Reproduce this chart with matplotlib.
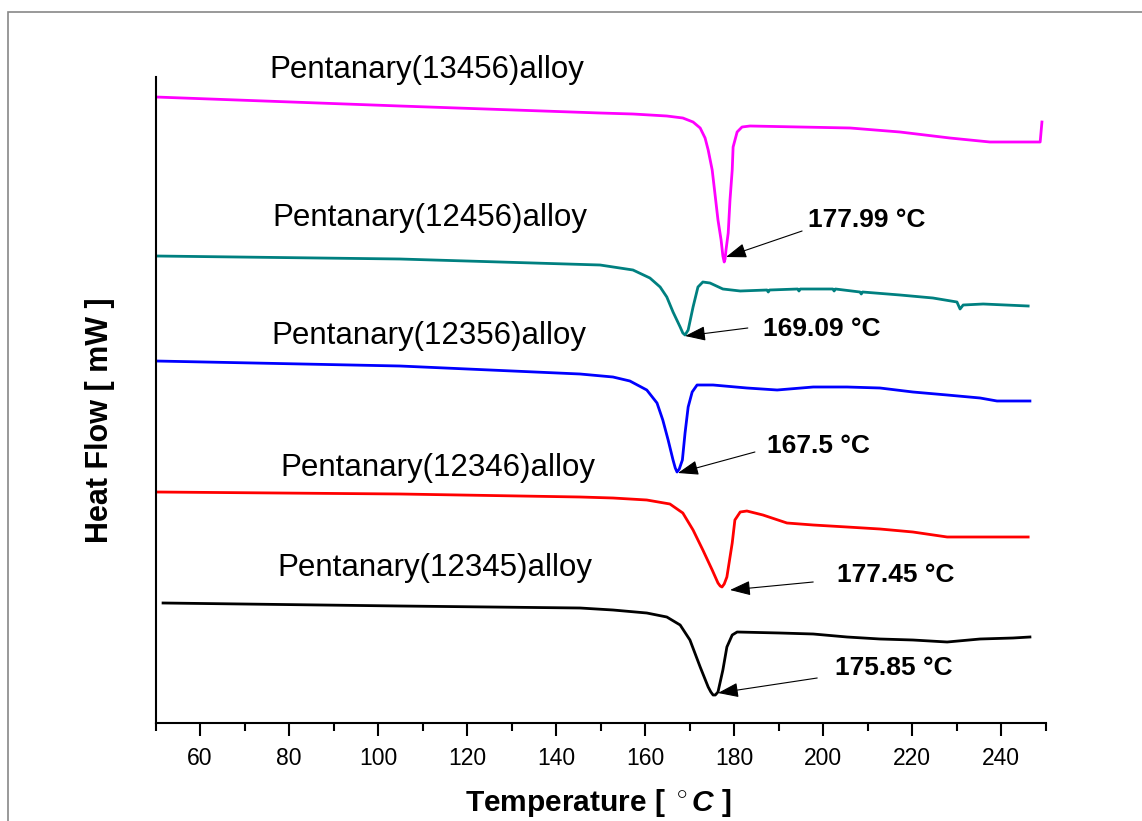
import matplotlib
matplotlib.use("Agg")
import matplotlib.pyplot as plt
from matplotlib.patches import Rectangle
from matplotlib.ticker import MultipleLocator

plt.rcParams['font.family'] = ['Liberation Sans', 'DejaVu Sans']
plt.rcParams['mathtext.fontset'] = 'custom'
plt.rcParams['mathtext.rm'] = 'Liberation Sans:bold'
plt.rcParams['mathtext.it'] = 'Liberation Sans:italic:bold'

# DSC curves, temperature in deg C, heat flow in arbitrary (offset) units
t_13456 = [50.0, 104.9, 149.9, 157.3, 164.9, 168.5, 170.8, 172.4, 173.5, 174.2, 175.1,
           175.7, 176.4, 177.1, 177.5, 177.8, 178.0, 178.2, 178.7, 179.1, 179.6, 179.8,
           180.7, 181.8, 183.6, 194.8, 206.1, 217.3, 228.5, 237.5, 248.8, 249.2]
h_13456 = [626, 617, 610, 609, 607, 605, 601, 595, 585, 573, 553,
           530, 503, 483, 467, 461, 464, 473, 490, 523, 553, 576,
           591, 596, 597, 596, 595, 591, 585, 581, 581, 601]

t_12456 = [50.0, 104.9, 149.9, 157.3, 161.1, 163.4, 164.9, 166.3, 167.9, 168.5, 169.0,
           169.7, 170.8, 171.9, 173.0, 174.6, 177.5, 181.4, 187.4, 187.7, 188.0, 194.3,
           194.6, 194.9, 202.2, 202.5, 202.8, 208.3, 208.6, 208.9, 217.3, 224.7, 230.1,
           230.8, 231.5, 236.0, 246.1]
h_12456 = [467, 464, 458, 453, 445, 436, 426, 411, 396, 390, 388,
           393, 416, 436, 441, 440, 434, 432, 433, 431, 433, 434,
           432, 434, 434, 432, 434, 431, 429, 431, 428, 425, 421,
           414, 418, 419, 417]

t_12356 = [50.0, 104.9, 145.4, 152.8, 156.6, 160.4, 162.7, 164.0, 165.2, 166.3, 166.8,
           167.2, 167.7, 168.4, 169.0, 169.7, 170.6, 171.7, 175.3, 182.9, 189.7, 197.8,
           205.4, 212.8, 220.2, 227.9, 235.3, 239.1, 246.5]
h_12356 = [362, 357, 349, 346, 342, 333, 320, 303, 283, 263, 255,
           251, 254, 263, 290, 316, 331, 338, 338, 335, 333, 336,
           336, 335, 331, 328, 325, 322, 322]

t_12346 = [50.0, 104.9, 145.4, 152.8, 160.4, 165.6, 168.5, 170.8, 173.0, 175.1, 176.4,
           176.9, 177.3, 177.8, 178.4, 179.6, 180.2, 181.4, 182.9, 186.5, 191.9, 197.8,
           205.4, 212.8, 220.2, 227.9, 235.3, 246.1]
h_12346 = [231, 229, 226, 225, 223, 219, 210, 193, 173, 153, 140,
           137, 136, 139, 146, 180, 203, 211, 212, 208, 200, 198,
           196, 194, 191, 186, 186, 186]

t_12345 = [51.7, 104.9, 145.4, 152.8, 160.4, 164.9, 167.9, 170.1, 172.4, 174.2, 174.8,
           175.3, 175.8, 176.4, 177.5, 178.4, 179.6, 180.7, 190.3, 197.8, 205.4, 212.8,
           220.2, 227.9, 235.3, 242.7, 246.5]
h_12345 = [120, 117, 115, 113, 110, 106, 98, 83, 56, 36, 31,
           28, 28, 31, 53, 76, 88, 91, 90, 89, 86, 84,
           83, 81, 84, 85, 86]

names = ['Pentanary(13456)alloy', 'Pentanary(12456)alloy', 'Pentanary(12356)alloy',
         'Pentanary(12346)alloy', 'Pentanary(12345)alloy']
colors = ['#ff00ff', '#008080', '#0000ff', '#ff0000', '#000000']
series = [(t_13456, h_13456), (t_12456, h_12456), (t_12356, h_12356),
          (t_12346, h_12346), (t_12345, h_12345)]

# where each curve name sits (left x, baseline y)
name_pos = [(75.7, 645), (76.2, 497), (76.0, 379), (78.0, 247), (77.5, 147)]

# peak labels: text, arrow head, arrow tail, text position (left, baseline)
peak_labels = ['177.99 °C', '169.09 °C', '167.5 °C', '177.45 °C', '175.85 °C']
peak_head = [(178.2, 466), (169.0, 387), (167.4, 250), (179.1, 133), (176.4, 30)]
peak_tail = [(195.3, 492), (183.1, 395), (184.7, 271), (197.8, 141), (198.7, 45)]
peak_text = [(196.6, 496), (186.5, 387), (187.4, 270), (203.1, 141), (202.7, 48)]

fig = plt.figure(figsize=(11.42, 8.21), dpi=100)
ax = fig.add_axes([155.5 / 1142, 98 / 821, 890 / 1142, 646 / 821])

for (t, h), c in zip(series, colors):
    ax.plot(t, h, color=c, lw=2.0, solid_joinstyle='round')

for name, (x, y) in zip(names, name_pos):
    ax.text(x, y, name, fontsize=22.5, ha='left', va='baseline')

for lab, hd, tl, tp in zip(peak_labels, peak_head, peak_tail, peak_text):
    ax.annotate('', xy=hd, xytext=tl,
                arrowprops=dict(arrowstyle='-|>,head_length=0.7,head_width=0.25',
                                color='black', lw=0.8, mutation_scale=18,
                                shrinkA=0, shrinkB=0))
    ax.text(tp[0], tp[1], lab, fontsize=19, fontweight='bold', ha='left', va='baseline')

ax.set_xlim(50, 250)
ax.set_ylim(0, 646)
ax.xaxis.set_minor_locator(MultipleLocator(10))
ax.set_xticks(range(60, 241, 20))
ax.set_yticks([])
ax.tick_params(axis='x', which='major', direction='out', length=9, width=1.5,
               labelsize=16.5, pad=8)
ax.tick_params(axis='x', which='minor', direction='out', length=5.5, width=1.5)
for s in ['top', 'right']:
    ax.spines[s].set_visible(False)
for s in ['left', 'bottom']:
    ax.spines[s].set_linewidth(1.5)

ax.set_xlabel(r'Temperature [ $^\circ C$ ]', fontsize=21.5, fontweight='bold')
ax.xaxis.set_label_coords(0.497, -0.099)
ax.set_ylabel('Heat Flow [ mW ]', fontsize=22, fontweight='bold')
ax.yaxis.set_label_coords(-0.046, 0.469)

# thin grey frame around the figure, cut off at right and bottom
fig.add_artist(Rectangle((8 / 1142, -0.1), 1.2, 0.1 + 1 - 12 / 821,
                         transform=fig.transFigure, fill=False,
                         edgecolor='#888888', lw=1.2))

fig.savefig('out.png', dpi=100)
